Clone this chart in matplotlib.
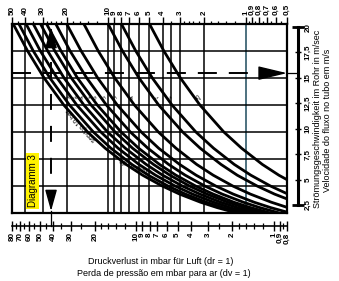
import numpy as np
import matplotlib
matplotlib.use('Agg')
import matplotlib.pyplot as plt
import matplotlib.transforms as mtrans
from matplotlib.ticker import NullFormatter, NullLocator

plt.rcParams['font.family'] = ['Liberation Sans', 'DejaVu Sans']
plt.rcParams['lines.scale_dashes'] = False

# ---------------- data ----------------
velocity = [20, 17.5, 15, 12.5, 10, 8.5, 7, 6, 5, 4.25, 3.5, 3, 2.5]
curve_01 = [49.0, 38.5, 29.2, 21.0, 14.1, 10.5, 7.40, 5.61, 4.04, 3.02, 2.13, 1.61, 1.16]
curve_02 = [44.5, 35.0, 26.5, 19.1, 12.8, 9.54, 6.72, 5.10, 3.67, 2.74, 1.93, 1.46, 1.05]
curve_03 = [39.5, 31.1, 23.5, 16.9, 11.3, 8.46, 5.97, 4.52, 3.26, 2.43, 1.71, 1.30, 0.936]
curve_04 = [35.0, 27.5, 20.9, 15.0, 10.1, 7.50, 5.29, 4.01, 2.89, 2.15, 1.52, 1.15, 0.829]
curve_05 = [31.0, 24.4, 18.5, 13.3, 8.90, 6.64, 4.68, 3.55, 2.56, 1.91, 1.35, 1.02, 0.734]
curve_06 = [28.0, 22.0, 16.7, 12.0, 8.04, 6.00, 4.23, 3.21, 2.31, 1.72, 1.22, 0.921, 0.663]
curve_07 = [24.0, 18.9, 14.3, 10.3, 6.89, 5.14, 3.63, 2.75, 1.98, 1.48, 1.04, 0.789, 0.569]
curve_08 = [20.0, 15.7, 11.9, 8.58, 5.74, 4.29, 3.02, 2.29, 1.65, 1.23, 0.868, 0.658, 0.474]
curve_09 = [15.0, 11.8, 8.94, 6.44, 4.31, 3.21, 2.27, 1.72, 1.24, 0.923, 0.651, 0.493, 0.355]
curve_10 = [10.0, 7.86, 5.96, 4.29, 2.87, 2.14, 1.51, 1.15, 0.825, 0.616, 0.434, 0.329, 0.237]
curve_11 = [8.0, 6.29, 4.77, 3.43, 2.30, 1.71, 1.21, 0.916, 0.660, 0.492, 0.347, 0.263, 0.190]
curve_12 = [5.0, 3.93, 2.98, 2.15, 1.44, 1.07, 0.756, 0.573, 0.412, 0.308, 0.217, 0.164, 0.118]
curve_labels = ['', '3', '2', '4', '1', '6', '5', '5', '4', '7', '1', '25']

top_major = [50, 40, 30, 20, 10, 9, 8, 7, 6, 5, 4, 3, 2, 1, 0.9, 0.8, 0.7, 0.6, 0.5]
top_labels = ['50', '40', '30', '20', '10', '9', '8', '7', '6', '5', '4', '3', '2',
              '1', '0,9', '0,8', '0,7', '0,6', '0,5']
top_minor = [45, 35, 28, 26, 24, 22, 18, 16, 14, 12, 3.5, 2.8, 2.6, 2.4, 2.2,
             1.8, 1.6, 1.4, 1.2, 0.95, 0.85, 0.75, 0.65, 0.55]
bottom_major = [80, 70, 60, 50, 40, 30, 20, 10, 9, 8, 7, 6, 5, 4, 3, 2, 1, 0.9, 0.8]
bottom_labels = ['80', '70', '60', '50', '40', '30', '20', '10', '9', '8', '7', '6',
                 '5', '4', '3', '2', '1', '0,9', '0,8']
bottom_minor = [75, 65, 55, 45, 35, 25, 18, 16, 14, 12, 2.5, 1.8, 1.6, 1.4, 1.2, 0.85]
vel_ticks = [2.5, 5, 7.5, 10, 12.5, 15, 17.5, 20]
vel_labels = ['2,5', '5', '7,5', '10', '12,5', '15', '17,5', '20']
grid_dp = [40, 30, 20, 10, 9, 8, 7, 6, 5, 4, 3.5, 3, 2]
grid_dp_blue = [1]
grid_v = [5, 7.5, 10, 12.5, 15, 17.5]
reading_dp = 26.0
reading_v = 15.45

# ---------------- figure ----------------
W, H, DPI = 339, 281, 100
fig = plt.figure(figsize=(W / DPI, H / DPI), dpi=DPI)
fig.patch.set_facecolor('white')

def fx(px):
    return px / W

def fy(py):
    return 1 - py / H

L, R, T, B = 12, 287, 24, 213
ax = fig.add_axes([fx(L), fy(B), (R - L) / W, (B - T) / H])
ax.set_xscale('log')
ax.set_xlim(50, 0.5)
ax.set_ylim(2.5, 20)

for g in grid_dp:
    ax.axvline(g, color='black', lw=1.1, zorder=1)
for g in grid_dp_blue:
    ax.axvline(g, color='#1c4a5c', lw=1.1, zorder=1)
for g in grid_v:
    ax.axhline(g, color='black', lw=1.1, zorder=1)

curves = [curve_01, curve_02, curve_03, curve_04, curve_05, curve_06,
          curve_07, curve_08, curve_09, curve_10, curve_11, curve_12]
for c in curves:
    ax.plot(c, velocity, color='black', lw=2.0, zorder=3, solid_capstyle='butt')

# curve labels at v ~ 13.3
lab_v = 13.3
for c, lab in zip(curves, curve_labels):
    if not lab:
        continue
    xv = np.exp(np.interp(lab_v, velocity[::-1], np.log(c[::-1])))
    ax.annotate(lab, xy=(xv, lab_v), xytext=(3.5, 0), textcoords='offset points',
                fontsize=4.5, rotation=125, ha='center', va='center', zorder=4)

# rotated text along the bundle
ax.text(0.255, 0.47, 'serviço 10 bar', transform=ax.transAxes, fontsize=4.8,
        rotation=131, ha='center', va='center', zorder=4)
ax.text(0.45, 0.255, 'pressão de', transform=ax.transAxes, fontsize=4.8,
        rotation=158, ha='center', va='center', zorder=4)

# spines / ticks
for s in ax.spines.values():
    s.set_linewidth(1.6)
    s.set_zorder(5)
ax.xaxis.tick_top()
ax.set_xticks(top_major, top_labels, rotation=90, fontsize=5.8, fontweight='bold')
ax.set_xticks(top_minor, minor=True)
ax.xaxis.set_minor_formatter(NullFormatter())
ax.tick_params(axis='x', which='major', direction='out', length=5, width=1, pad=1.5)
ax.tick_params(axis='x', which='minor', direction='out', length=2.5, width=0.9)
ax.set_yticks([])
ax.yaxis.set_minor_locator(NullLocator())

# dashed reading lines
tr_h = mtrans.blended_transform_factory(ax.transAxes, ax.transData)
tr_v = mtrans.blended_transform_factory(ax.transData, ax.transAxes)

ax.plot([0.0, (248 - L) / (R - L)], [reading_v, reading_v], transform=tr_h,
        color='black', lw=1.4, ls=(0, (13.7, 8.6)), zorder=4, dash_capstyle='butt')
ax.annotate('', xy=(1.0, reading_v), xytext=((262 - L) / (R - L), reading_v),
            xycoords=tr_h, textcoords=tr_h,
            arrowprops=dict(arrowstyle='-|>,head_length=1,head_width=0.24',
                            mutation_scale=18, color='black', lw=1.0,
                            shrinkA=0, shrinkB=0), zorder=6)
ax.plot([1.0, (298 - L) / (R - L)], [reading_v, reading_v], transform=tr_h,
        color='black', lw=0.9, clip_on=False, zorder=6)

ax.plot([reading_dp, reading_dp], [(B - 62) / (B - T), (B - 175) / (B - T)],
        transform=tr_v, color='black', lw=1.4, ls=(0, (11.5, 11.5)), zorder=4,
        dash_capstyle='butt')
ax.annotate('', xy=(reading_dp, (B - 27) / (B - T)),
            xytext=(reading_dp, (B - 46) / (B - T)),
            xycoords=tr_v, textcoords=tr_v,
            arrowprops=dict(arrowstyle='-|>,head_length=1,head_width=0.28',
                            mutation_scale=13, color='black', lw=1.0,
                            shrinkA=0, shrinkB=0), zorder=6)
ax.annotate('', xy=(reading_dp, (B - 211) / (B - T)),
            xytext=(reading_dp, (B - 191) / (B - T)),
            xycoords=tr_v, textcoords=tr_v,
            arrowprops=dict(arrowstyle='-|>,head_length=1,head_width=0.28',
                            mutation_scale=13, color='black', lw=1.0,
                            shrinkA=0, shrinkB=0), zorder=6)
ax.plot([reading_dp, reading_dp], [(B - 211) / (B - T), (B - 226) / (B - T)],
        transform=tr_v, color='black', lw=0.9, clip_on=False, zorder=6)

# yellow label
ax.text((32.5 - L) / (R - L), (B - 181) / (B - T), 'Diagramm 3',
        transform=ax.transAxes, rotation=90, fontsize=7, ha='center', va='center',
        zorder=7, bbox=dict(boxstyle='square,pad=0.12', fc='#fff200', ec='none'))

# ---------------- bottom scale ----------------
axb = fig.add_axes([fx(12), fy(226), (287 - 12) / W, 0.0001])
axb.set_xscale('log')
axb.set_xlim(80, 0.8)
for s in ['top', 'left', 'right']:
    axb.spines[s].set_visible(False)
axb.spines['bottom'].set_linewidth(1.2)
axb.patch.set_visible(False)
axb.set_yticks([])
axb.yaxis.set_minor_locator(NullLocator())
axb.set_xticks(bottom_major, bottom_labels, rotation=90, fontsize=5.8, fontweight='bold')
axb.set_xticks(bottom_minor, minor=True)
axb.xaxis.set_minor_formatter(NullFormatter())
axb.tick_params(axis='x', which='major', direction='inout', length=7, width=1, pad=1)
axb.tick_params(axis='x', which='minor', direction='inout', length=4, width=0.9)

# ---------------- right velocity scale ----------------
axr = fig.add_axes([fx(298), fy(205), 0.0001, (205 - 27) / H])
axr.set_ylim(2.5, 20)
axr.set_xlim(0, 1)
axr.set_xticks([])
for s in ['top', 'bottom', 'left']:
    axr.spines[s].set_visible(False)
axr.spines['right'].set_linewidth(2.2)
axr.patch.set_visible(False)
axr.yaxis.tick_right()
axr.set_yticks(vel_ticks, vel_labels, rotation=90, va='center', fontsize=5.8,
               fontweight='bold')
axr.yaxis.set_minor_locator(NullLocator())
axr.tick_params(axis='y', direction='inout', length=5, width=1, pad=2)
axr.plot([1, 1], [vel_ticks[0], vel_ticks[-1]], ls='none', marker='_', ms=9, mew=2,
         color='black', clip_on=False)

# ---------------- titles ----------------
fig.text(fx(161), fy(262), 'Druckverlust in mbar für Luft (dr = 1)', fontsize=6.5,
         ha='center', va='center')
fig.text(fx(164), fy(273), 'Perda de pressão em mbar para ar (dv = 1)', fontsize=6.5,
         ha='center', va='center')
fig.text(fx(317), fy(119), 'Strömungsgeschwindigkeit im Rohr in m/sec', fontsize=6.5,
         rotation=90, ha='center', va='center')
fig.text(fx(328), fy(120), 'Velocidade do fluxo no tubo em m/s', fontsize=6.5,
         rotation=90, ha='center', va='center')

fig.savefig('out.png', dpi=DPI)
